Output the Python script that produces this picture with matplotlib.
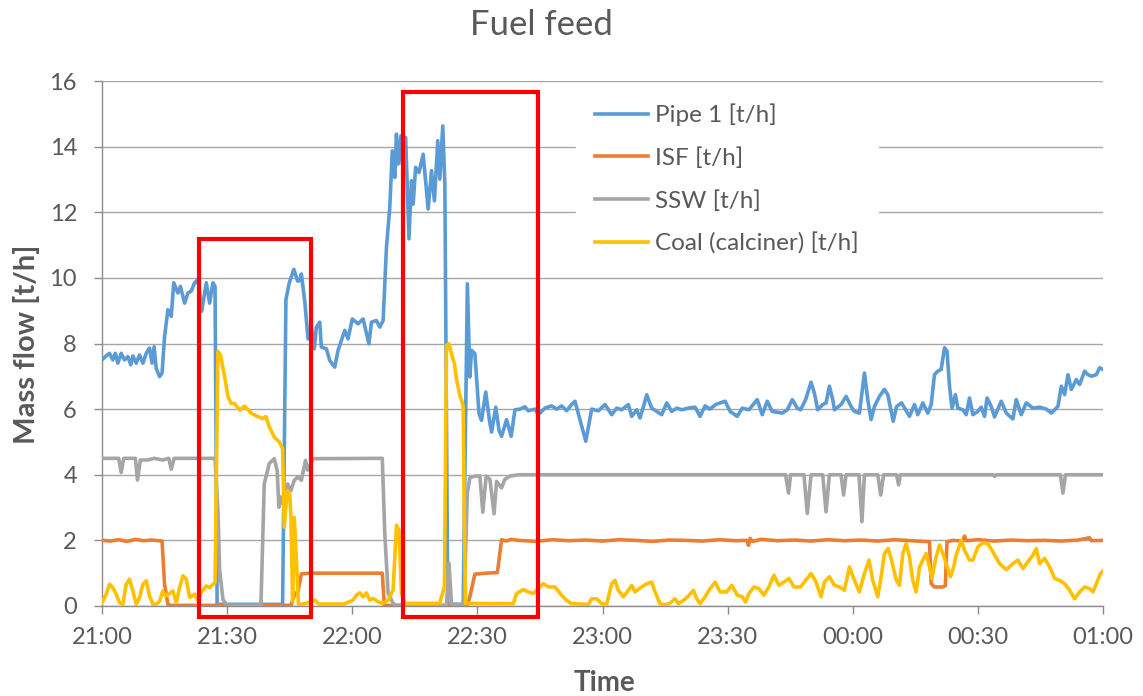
import numpy as np
import matplotlib
matplotlib.use("Agg")
import matplotlib.pyplot as plt
from matplotlib.patches import Rectangle

plt.rcParams['font.family'] = ['Lato', 'DejaVu Sans']

# minutes after 21:00, mass flow in t/h
PIPE1_T = [0.0, 0.8, 1.8, 2.6, 3.2, 3.8, 4.6, 5.4, 6.2, 6.9, 7.4, 8.2, 9.0, 9.8, 10.6, 11.4, 12.0, 12.5, 13.0, 13.8, 14.4,
           15.0, 15.8, 16.6, 17.2, 18.2, 18.8, 19.8, 20.6, 21.4, 22.2, 23.0, 23.9, 25.0, 25.8, 26.6, 27.1, 27.6, 43.3,
           44.1, 44.9, 46.0, 46.9, 47.4, 47.8, 48.6, 49.4, 50.2, 50.9, 51.4, 52.2, 52.6, 53.8, 54.6, 55.8, 56.6, 58.2,
           59.0, 60.0, 61.4, 62.6, 64.0, 64.6, 65.8, 66.6, 67.4, 68.2, 69.0, 69.6, 70.2, 70.6, 71.0, 71.7, 72.0, 72.8,
           73.6, 74.2, 74.6, 75.2, 76.0, 77.0, 78.2, 79.0, 79.7, 80.5, 81.0, 81.7, 82.2, 82.9, 86.6, 87.6, 88.2, 88.6,
           89.4, 90.4, 91.0, 92.0, 92.9, 93.4, 94.4, 95.2, 95.8, 97.0, 98.1, 99.0, 100.2, 101.4, 102.2, 103.8, 104.6,
           106.2, 107.8, 109.0, 110.2, 111.4, 112.6, 113.4, 114.6, 116.0, 117.4, 119.0, 120.6, 122.2, 123.4, 124.6,
           126.2, 127.0, 128.2, 129.0, 129.8, 130.6, 131.8, 133.0, 134.2, 135.4, 136.6, 137.8, 139.0, 140.6, 142.2,
           143.4, 144.6, 145.7, 147.3, 149.4, 150.6, 152.3, 153.5, 155.1, 157.1, 158.3, 159.5, 160.7, 163.1, 164.3,
           165.5, 166.7, 167.5, 168.7, 170.0, 170.8, 171.6, 172.8, 173.6, 174.4, 175.2, 175.6, 177.2, 178.4, 179.6,
           180.4, 181.6, 182.8, 183.6, 184.4, 185.2, 186.4, 187.6, 188.4, 189.7, 190.5, 191.7, 193.6, 194.8, 195.6,
           196.8, 198.0, 198.8, 199.6, 200.4, 201.2, 202.0, 202.6, 203.2, 203.8, 204.6, 205.2, 206.4, 207.2, 208.0,
           208.8, 210.0, 210.8, 211.6, 212.2, 213.2, 214.0, 215.6, 216.8, 218.4, 219.2, 220.4, 221.6, 223.2, 224.8,
           226.4, 227.6, 229.2, 230.0, 230.8, 231.6, 232.4, 233.6, 234.4, 235.6, 236.4, 237.2, 238.4, 239.2, 240.0]
PIPE1_V = [7.5, 7.6, 7.7, 7.5, 7.7, 7.4, 7.7, 7.5, 7.6, 7.35, 7.62, 7.4, 7.65, 7.4, 7.7, 7.86, 7.4, 7.9, 7.24, 6.99, 7.1,
           8.21, 9.03, 8.83, 9.85, 9.54, 9.74, 9.23, 9.54, 9.6, 9.85, 9.95, 8.98, 9.85, 9.23, 9.85, 9.74, 0.05, 0.05,
           9.34, 9.85, 10.26, 9.9, 9.92, 10.12, 9.3, 8.14, 8.5, 7.84, 8.5, 8.65, 7.89, 7.84, 7.48, 7.28, 7.79, 8.4,
           8.14, 8.75, 8.6, 8.75, 7.99, 8.65, 8.7, 8.5, 8.7, 10.93, 12.15, 13.87, 13.06, 14.38, 13.47, 14.33, 13.47, 14.28,
           11.19, 12.96, 12.25, 13.37, 13.21, 13.77, 12.1, 13.27, 12.35, 14.18, 13.01, 14.63, 12.86, 0.05, 0.05, 9.82, 6.98, 7.79,
           7.69, 5.86, 5.66, 6.52, 5.66, 5.3, 6.06, 5.35, 5.17, 5.68, 5.17, 5.98, 6.0, 6.07, 5.95, 6.0, 5.83,
           6.03, 6.1, 6.0, 6.1, 5.95, 6.14, 6.24, 5.68, 5.02, 6.0, 5.95, 6.14, 5.83, 6.03, 5.98,
           6.14, 5.78, 5.98, 5.73, 6.07, 6.44, 6.03, 5.93, 5.83, 6.19, 5.93, 6.03, 5.98, 6.03, 6.06,
           5.78, 6.1, 6.0, 6.15, 6.24, 5.93, 5.78, 6.03, 5.98, 6.29, 5.83, 6.24, 5.93, 5.88, 5.98,
           6.29, 6.03, 5.98, 6.29, 6.82, 6.49, 5.98, 6.14, 6.19, 6.7, 6.29, 5.98, 6.14, 6.39, 6.08,
           5.93, 5.88, 7.1, 6.29, 5.68, 6.08, 6.39, 6.6, 6.44, 5.63, 6.08, 6.19, 5.78, 6.14, 5.83,
           6.19, 5.88, 6.14, 7.05, 7.16, 7.21, 7.87, 7.77, 6.7, 6.03, 6.44, 6.03, 5.98, 5.83, 6.34,
           5.83, 5.93, 6.06, 5.78, 6.34, 6.08, 5.76, 6.24, 5.88, 5.7, 6.29, 5.83, 6.19, 6.03, 6.06,
           6.0, 5.88, 6.08, 6.7, 6.44, 7.05, 6.6, 6.9, 6.75, 7.16, 7.05, 7.0, 7.05, 7.26, 7.21]

ISF_T = [0, 2, 4, 6, 8, 10, 12, 14.4, 15.0, 15.8, 16.5, 45.3, 46.2, 47.0, 47.8, 50, 55, 60, 67.2, 67.7, 87.6, 88.2,
         89.4, 92, 94.8, 95.8, 97, 98, 100, 104, 108, 112, 116, 120, 124, 128, 132, 136, 140, 144, 148, 152, 154.6,
         155.0, 155.4, 156, 158, 162, 166, 170, 174, 178, 182, 186, 190, 194, 198.4, 198.8, 199.6, 201.6, 202.2,
         202.6, 204, 206.4, 206.8, 207.2, 210, 214, 218, 222, 226, 230, 234, 236.8, 237.2, 240]
ISF_V = [2.0, 1.98, 2.02, 1.97, 2.03, 1.99, 2.01, 1.98, 0.66, 0.05, 0.02, 0.02, 0.35, 0.45, 0.98, 1.0, 1.0, 1.0, 1.0, 0.02, 0.02, 0.28,
         0.97, 1.0, 1.02, 2.02, 1.98, 2.03, 2.0, 1.97, 2.02, 1.99, 2.01, 1.98, 2.02, 2.0, 1.97, 2.01, 2.0, 1.98, 2.02, 1.99, 2.0,
         1.85, 2.06, 1.97, 2.03, 1.99, 2.01, 1.98, 2.02, 1.99, 2.01, 1.98, 2.02, 1.99, 1.96, 0.68, 0.58, 0.58, 0.62,
         1.96, 2.0, 1.98, 2.13, 1.99, 2.02, 1.98, 2.01, 1.99, 2.0, 1.98, 2.01, 2.08, 1.99, 2.0]

SSW_T = [0, 4.0, 4.6, 5.2, 8.0, 8.5, 9.2, 11, 12.5, 14.5, 16.0, 16.6, 17.3, 27.1, 27.8, 28.2, 29.0, 30.0, 38.1, 38.9,
         40.1, 41.3, 42.0, 42.4, 42.9, 43.7, 44.5, 45.3, 46.1, 47.0, 47.8, 48.8, 49.3, 50.6, 67.2, 67.8, 68.6, 69.8,
         70.5, 82.6, 83.2, 83.8, 86.8, 87.6, 88.2, 89.4, 90.6, 91.3, 92.1, 93.0, 94.0, 94.6, 95.8, 96.6, 97.8, 100,
         163.9, 164.6, 165.1, 168.3, 169.1, 170.0, 172.8, 173.6, 174.4, 177.2, 177.8, 178.4, 181.5, 182.2, 182.8,
         186.0, 186.7, 187.4, 190.5, 191.0, 191.4, 213.6, 214.0, 214.4, 229.8, 230.4, 231.0, 240]
SSW_V = [4.5, 4.5, 4.07, 4.5, 4.5, 3.84, 4.45, 4.45, 4.5, 4.45, 4.5, 4.17, 4.5, 4.5, 2.9, 1.1, 0.2, 0.02, 0.02, 3.72,
         4.34, 4.49, 4.13, 3.01, 3.32, 3.01, 3.72, 3.52, 3.83, 3.94, 3.83, 4.44, 4.14, 4.49, 4.5, 2.21, 0.39, 0.08,
         0.02, 0.02, 1.3, 0.05, 0.05, 3.44, 3.91, 3.96, 3.96, 2.86, 3.96, 3.86, 2.81, 3.8, 3.6, 3.86, 3.96, 4.0,
         4.0, 3.44, 4.0, 4.0, 2.82, 4.0, 4.0, 2.87, 4.0, 4.0, 3.38, 4.0, 4.0, 2.57, 4.0,
         4.0, 3.38, 4.0, 4.0, 3.69, 4.0, 4.0, 3.95, 4.0, 4.0, 3.44, 4.0, 4.0]

COAL_T = [0.0, 1.0, 1.8, 2.6, 3.4, 4.2, 5.0, 5.8, 6.6, 7.4, 8.2, 9.0, 9.8, 10.6, 11.4, 12.2, 13.0, 13.8, 14.6, 15.2,
          16.0, 17.0, 17.8, 18.6, 19.4, 20.2, 21.0, 22.2, 23.0, 23.8, 25.0, 25.8, 26.6, 27.1, 27.8, 28.4, 29.4, 30.2,
          31.0, 31.8, 33.0, 34.2, 35.8, 37.4, 38.5, 39.3, 40.1, 41.3, 42.5, 43.3, 43.7, 44.4, 45.0, 45.3, 45.7, 46.1,
          46.5, 47.1, 47.8, 49.4, 51.0, 52.0, 55, 58, 60.2, 61.0, 61.8, 62.6, 63.4, 64.2, 65.0, 66.2, 67.2, 68.6, 69.8,
          70.6, 71.2, 71.8, 72.6, 81.0, 81.4, 82.1, 82.6, 83.2, 83.8, 84.5, 85.0, 85.4, 85.8, 86.2, 86.6, 86.9, 87.2,
          98.6, 99.4, 101.0, 102.2, 103.4, 104.6, 105.8, 107.0, 108.6, 110.2, 111.4, 112.6, 116.6, 117.4, 118.6,
          119.8, 121.0, 122.2, 123.0, 123.8, 125.0, 126.2, 127.0, 127.8, 129.4, 130.6, 131.8, 132.6, 133.8, 135.0,
          136.2, 137.4, 138.2, 139.4, 140.6, 141.8, 142.6, 143.4, 144.6, 145.8, 147.0, 148.2, 149.8, 151.0, 152.3,
          153.5, 154.3, 155.1, 156.3, 157.5, 158.7, 159.9, 161.1, 162.3, 163.5, 164.7, 165.9, 167.5, 168.7, 170.0,
          171.2, 172.4, 173.2, 174.4, 175.6, 176.8, 178.0, 179.2, 180.4, 181.6, 182.8, 183.9, 184.8, 186.0, 186.8,
          187.6, 188.5, 189.3, 190.4, 191.2, 192.0, 192.8, 193.6, 194.4, 195.2, 196.0, 196.8, 197.6, 198.4, 199.0,
          199.8, 200.8, 201.6, 202.4, 203.4, 204.2, 204.8, 206.0, 206.8, 208.0, 208.8, 210.0, 211.2, 212.4, 213.6,
          215.2, 216.8, 218.4, 219.6, 220.8, 222.0, 223.2, 224.0, 224.8, 226.0, 227.2, 228.4, 229.6, 230.8, 232.0,
          233.2, 234.4, 235.6, 236.8, 237.6, 238.4, 239.4, 240.0]
COAL_V = [0.1, 0.36, 0.66, 0.56, 0.36, 0.1, 0.05, 0.66, 0.82, 0.46, 0.05, 0.26, 0.66, 0.77, 0.3, 0.05, 0.05, 0.15, 0.46, 0.3,
          0.36, 0.46, 0.1, 0.56, 0.92, 0.82, 0.26, 0.36, 0.15, 0.41, 0.61, 0.56, 0.66, 0.71, 7.76, 7.65, 6.99, 6.38,
          6.17, 6.17, 5.97, 6.09, 5.87, 5.77, 5.71, 5.77, 5.46, 5.15, 5.0, 4.8, 2.4, 3.52, 3.42, 2.7, 0.15, 2.7,
          1.68, 0.05, 0.05, 0.1, 0.18, 0.06, 0.06, 0.06, 0.18, 0.33, 0.4, 0.28, 0.4, 0.18, 0.23, 0.13, 0.08, 0.18, 0.49,
          2.46, 2.3, 0.39, 0.08, 0.08, 0.28, 0.59, 7.95, 7.99, 7.69, 7.38, 6.9, 6.67, 6.4, 6.27, 6.1, 2.2, 0.08,
          0.07, 0.38, 0.5, 0.43, 0.38, 0.53, 0.68, 0.58, 0.58, 0.33, 0.17, 0.07, 0.05, 0.22, 0.22,
          0.07, 0.05, 0.68, 0.78, 0.48, 0.28, 0.48, 0.63, 0.43, 0.58, 0.68, 0.73, 0.43, 0.07, 0.03,
          0.09, 0.22, 0.07, 0.17, 0.3, 0.48, 0.22, 0.07, 0.28, 0.53, 0.73, 0.43, 0.43, 0.63, 0.33,
          0.28, 0.12, 0.38, 0.58, 0.53, 0.33, 0.58, 0.94, 0.63, 0.73, 0.84, 0.58, 0.58, 0.78, 0.99,
          0.73, 0.28, 0.73, 0.89, 0.63, 0.58, 0.48, 1.19, 0.78, 0.43, 0.99, 1.4, 0.78, 0.28, 0.89,
          1.6, 1.75, 1.4, 0.8, 0.63, 1.6, 1.9, 1.5, 0.78, 0.43, 1.19, 1.4, 1.6, 1.19, 0.84,
          1.4, 1.86, 1.6, 1.3, 0.89, 1.19, 1.55, 2.0, 1.7, 1.4, 1.4, 1.8, 1.93, 1.9, 1.65,
          1.29, 1.11, 1.29, 1.4, 1.14, 1.35, 1.55, 1.75, 1.29, 1.45, 1.19, 0.84, 0.78, 0.68, 0.48,
          0.22, 0.43, 0.58, 0.53, 0.43, 0.68, 0.99, 1.07]

SERIES = ["Pipe 1 [t/h]", "ISF [t/h]", "SSW [t/h]", "Coal (calciner) [t/h]"]
COLORS = ["#5B9BD5", "#ED7D31", "#A5A5A5", "#FFC000"]
XTICKS = [0, 30, 60, 90, 120, 150, 180, 210, 240]
XLABELS = ["21:00", "21:30", "22:00", "22:30", "23:00", "23:30", "00:00", "00:30", "01:00"]
# highlighted windows: (start min, end min, bottom, top)
BOXES = [(23.2, 50.2, -0.34, 11.2), (72.2, 104.5, -0.32, 15.68)]

TXT = "#595959"
W, H = 1143, 696
fig = plt.figure(figsize=(W/100, H/100), dpi=100)
ax = fig.add_axes([102/W, 1-606/H, 1001/W, 525/H])

data = [(PIPE1_T, PIPE1_V), (ISF_T, ISF_V), (SSW_T, SSW_V), (COAL_T, COAL_V)]
for (t, v), lab, c in zip(data, SERIES, COLORS):
    ax.plot(t, v, color=c, lw=2.6, label=lab, solid_joinstyle="round", zorder=3)

for x0, x1, y0, y1 in BOXES:
    ax.add_patch(Rectangle((x0, y0), x1-x0, y1-y0, fill=False, ec="#FF0000", lw=3, clip_on=False, zorder=5))

ax.set_xlim(0, 240); ax.set_ylim(0, 16)
ax.set_xticks(XTICKS); ax.set_xticklabels(XLABELS)
ax.set_yticks(range(0, 17, 2))
ax.grid(axis="y", color="#A6A6A6", lw=1.0, zorder=1)
ax.set_axisbelow(True)
for s in ["top", "right"]:
    ax.spines[s].set_visible(False)
for s in ["left", "bottom"]:
    ax.spines[s].set_color("#8C8C8C"); ax.spines[s].set_linewidth(1.0)
ax.tick_params(colors="#8C8C8C", labelcolor=TXT, labelsize=17, length=6, width=1.0)
ax.tick_params(axis="x", pad=9)
ax.tick_params(axis="y", pad=12)

leg = ax.legend(loc="upper left", bbox_to_anchor=(576/W, 1-84/H), bbox_transform=fig.transFigure,
                frameon=True, fancybox=False, edgecolor="white", facecolor="white", framealpha=1,
                fontsize=17.5, labelcolor=TXT, handlelength=2.15, handletextpad=0.28, labelspacing=0.87,
                borderpad=0.8, borderaxespad=0)
leg.set_zorder(4)

fig.text(541/W, 1-25/H, "Fuel feed", ha="center", va="center", fontsize=25, color=TXT)
fig.text(604/W, 1-683/H, "Time", ha="center", va="center", fontsize=20, fontweight="bold", color=TXT)
fig.text(27/W, 1-344/H, "Mass flow [t/h]", ha="center", va="center", rotation=90, fontsize=21,
         fontweight="bold", color=TXT)

fig.savefig("out.png", dpi=100)
